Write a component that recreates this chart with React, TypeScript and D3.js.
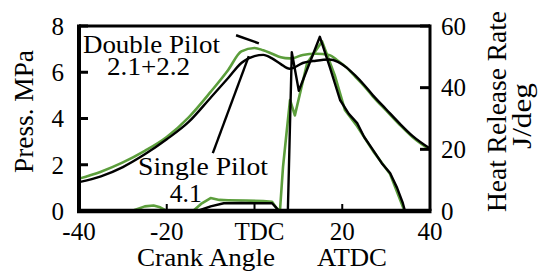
import React from 'react';
import * as d3 from 'd3';

// crank angle (deg ATDC) samples for the two cylinder pressure traces
const pressureAngles = [-40, -35, -30, -25, -20, -15, -10, -6, -3, 0, 2, 4, 6, 8, 9, 11, 14, 17, 19, 21, 23, 25, 27, 30, 33, 36, 40];
const singlePilotPressure = [1.25, 1.5, 1.9, 2.45, 3.1, 3.85, 4.9, 5.75, 6.4, 6.7, 6.75, 6.6, 6.35, 6.15, 6.2, 6.4, 6.5, 6.55, 6.45, 6.2, 5.85, 5.45, 5.0, 4.4, 3.8, 3.25, 2.7];
const doublePilotPressure = [1.4, 1.7, 2.1, 2.6, 3.2, 4.05, 5.15, 6.1, 6.9, 7.05, 6.95, 6.8, 6.65, 6.6, 6.62, 6.75, 6.8, 6.75, 6.5, 6.2, 5.8, 5.4, 4.95, 4.35, 3.75, 3.2, 2.65];

// heat release rate traces
const singleHrrAngles = [-40, -13, -10, -7, -3, 0, 4, 5, 5.6, 7.6, 8.5, 10.1, 14.9, 17.2, 19.5, 21.5, 23.4, 25, 27, 29, 30.9, 32.5, 33.8, 34.3, 40];
const singlePilotHrr = [0, 0, 1.5, 2.5, 2.6, 2.5, 2.5, 1, 0, 0, 51.5, 39, 56.5, 46.5, 36, 31.5, 28.5, 24, 19.8, 15.5, 12.3, 7.5, 2.6, 0, 0];
const doubleHrrAngles = [-40, -28, -27, -25, -23, -21.5, -20, -14, -12, -10, -8, -6, -2, 2, 4, 5, 5.8, 6.5, 7.3, 8.1, 9.2, 12, 15.4, 18.3, 20.6, 23.4, 27, 30.9, 33.5, 34.2, 40];
const doublePilotHrr = [0, 0, 0.5, 1.5, 1.8, 1.2, 0, 0, 2.5, 4.2, 3.6, 3.5, 3.4, 3.2, 3, 1, 0, 14.3, 25.3, 36, 31, 48, 55, 44, 32.8, 27.5, 19.5, 12, 2.5, 0, 0];

const xTicks = [-40, -20, 0, 20, 40];
const xTickLabels = ['-40', '-20', 'TDC', '20', '40'];
const pressureTicks = [0, 2, 4, 6, 8];
const hrrTicks = [0, 20, 40, 60];

const FONT = "'Liberation Serif'";
const GREEN = '#5c9e3c';

// serif text; width given as textLength because the source figure is slightly stretched
const T = ({ w, size = 26, ...props }: any) => (
  <text
    fontSize={size}
    fill="#000"
    style={{ fontFamily: FONT }}
    {...(w ? { textLength: w, lengthAdjust: 'spacingAndGlyphs' } : {})}
    {...props}
  />
);

const App = () => {
  const left = 79;
  const right = 430;
  const top = 26;
  const bottom = 211;

  const x = d3.scaleLinear().domain([-40, 40]).range([left, right]);
  const yP = d3.scaleLinear().domain([0, 8]).range([bottom, top]);
  const yH = d3.scaleLinear().domain([0, 60]).range([bottom, top]);

  const pressureLine = (vals: number[]) =>
    d3.line<number>()
      .x((_, i) => x(pressureAngles[i]))
      .y(d => yP(d))
      .curve(d3.curveMonotoneX)(vals) || '';

  const hrrLine = (angles: number[], vals: number[]) =>
    d3.line<number>()
      .x((_, i) => x(angles[i]))
      .y(d => yH(d))
      .curve(d3.curveLinear)(vals) || '';

  return (
    <svg width={544} height={279} style={{ position: 'absolute', left: 0, top: 0, background: '#fff' }}>
      <style>{"text { font-family: 'Liberation Serif'; }"}</style>
      {/* curves */}
      <path d={pressureLine(doublePilotPressure)} fill="none" stroke={GREEN} strokeWidth={2.6} />
      <path d={hrrLine(doubleHrrAngles, doublePilotHrr)} fill="none" stroke={GREEN} strokeWidth={2.6} strokeLinejoin="round" />
      <path d={pressureLine(singlePilotPressure)} fill="none" stroke="#000" strokeWidth={2.4} />
      <path d={hrrLine(singleHrrAngles, singlePilotHrr)} fill="none" stroke="#000" strokeWidth={2.4} strokeLinejoin="round" />

      {/* frame */}
      <line x1={left} x2={right} y1={top} y2={top} stroke="#000" strokeWidth={3} />
      <line x1={right} x2={right} y1={top - 1.5} y2={bottom} stroke="#000" strokeWidth={3} />
      <line x1={left} x2={left} y1={top - 1.5} y2={bottom + 2} stroke="#000" strokeWidth={4} />
      <line x1={left - 2} x2={right + 1.5} y1={bottom} y2={bottom} stroke="#000" strokeWidth={4.5} />

      {/* left axis */}
      {pressureTicks.map(t => (
        <g key={'p' + t}>
          <line x1={left} x2={left + 9} y1={yP(t)} y2={yP(t)} stroke="#000" strokeWidth={3} />
          <T size={25} x={left - 15} y={yP(t)} dy="0.35em" textAnchor="end">{t}</T>
        </g>
      ))}

      {/* right axis */}
      {hrrTicks.map(t => (
        <g key={'h' + t}>
          <line x1={right - 10} x2={right} y1={yH(t)} y2={yH(t)} stroke="#000" strokeWidth={3} />
          <T size={25} x={right + 11} y={yH(t)} dy="0.35em" textAnchor="start">{t}</T>
        </g>
      ))}

      {/* bottom axis */}
      {xTicks.map((t, i) => (
        <g key={'x' + t}>
          <line x1={x(t)} x2={x(t)} y1={bottom} y2={bottom - 7} stroke="#000" strokeWidth={2} />
          <T size={25} x={x(t) + (i === 2 ? 5 : 0)} y={bottom + 29} textAnchor="middle">{xTickLabels[i]}</T>
        </g>
      ))}

      {/* axis titles */}
      <T x={137} y={266} w={138}>Crank Angle</T>
      <T x={317} y={266} w={70}>ATDC</T>
      <T transform="translate(33,173) rotate(-90)" w={123} size={27}>Press. MPa</T>
      <T transform="translate(506,212) rotate(-90)" w={201} size={27}>Heat Release Rate</T>
      <T transform="translate(531,149) rotate(-90)" w={66} size={27}>J/deg</T>

      {/* annotations */}
      <T x={x(-39.1)} y={yP(6.85)} w={137}>Double Pilot</T>
      <T x={x(-33.6)} y={yP(5.88)} w={83} size={25}>2.1+2.2</T>
      <line x1={x(-4.2)} y1={yP(7.6)} x2={x(1)} y2={yP(7.25)} stroke="#000" strokeWidth={2.4} />
      <T x={x(-26.55)} y={yP(1.56)} w={130}>Single Pilot</T>
      <T x={x(-19.3)} y={yP(0.39)} w={32}>4.1</T>
      <line x1={x(-9.5)} y1={yP(2.5)} x2={x(-1.3)} y2={yP(6.7)} stroke="#000" strokeWidth={2.4} />
    </svg>
  );
};

export default App;
